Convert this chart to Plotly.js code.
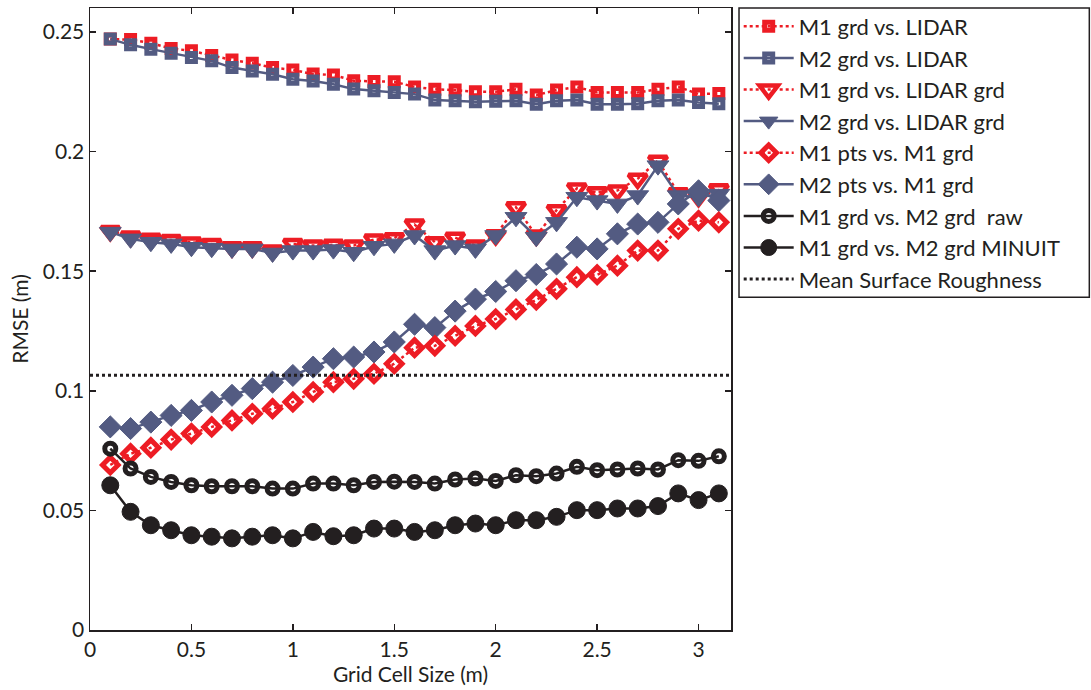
<!DOCTYPE html>
<html>
<head>
<meta charset="utf-8">
<script src="https://cdn.plot.ly/plotly-3.0.1.min.js"></script>
<style>
html,body{margin:0;padding:0;background:#fff;}
#chart{width:1091px;height:690px;}
</style>
</head>
<body>
<div id="chart"></div>
<script>
// Grid cell sizes (m)
const gridSize = [0.1,0.2,0.3,0.4,0.5,0.6,0.7,0.8,0.9,1.0,1.1,1.2,1.3,1.4,1.5,1.6,1.7,1.8,1.9,2.0,2.1,2.2,2.3,2.4,2.5,2.6,2.7,2.8,2.9,3.0,3.1];

const m1GrdVsLidar = [0.2470,0.2468,0.2453,0.2431,0.2421,0.2401,0.2383,0.2369,0.2351,0.2341,0.2324,0.2320,0.2296,0.2293,0.2292,0.2270,0.2260,0.2257,0.2250,0.2250,0.2260,0.2236,0.2257,0.2270,0.2247,0.2247,0.2247,0.2260,0.2270,0.2240,0.2243];
const m2GrdVsLidar = [0.2470,0.2446,0.2428,0.2411,0.2393,0.2379,0.2351,0.2337,0.2323,0.2302,0.2295,0.2281,0.2261,0.2254,0.2247,0.2240,0.2215,0.2212,0.2208,0.2210,0.2212,0.2198,0.2212,0.2215,0.2198,0.2198,0.2200,0.2212,0.2215,0.2205,0.2200];
const m1GrdVsLidarGrd = [0.1668,0.1645,0.1635,0.1630,0.1620,0.1613,0.1600,0.1600,0.1586,0.1614,0.1607,0.1610,0.1607,0.1632,0.1638,0.1695,0.1621,0.1640,0.1607,0.1650,0.1767,0.1649,0.1755,0.1846,0.1830,0.1837,0.1886,0.1962,0.1826,0.1810,0.1842];
const m2GrdVsLidarGrd = [0.1663,0.1635,0.1621,0.1614,0.1600,0.1596,0.1593,0.1593,0.1576,0.1586,0.1586,0.1590,0.1579,0.1604,0.1614,0.1649,0.1586,0.1607,0.1593,0.1649,0.1725,0.1642,0.1704,0.1809,0.1795,0.1781,0.1816,0.1941,0.1816,0.1809,0.1822];
const m1PtsVsM1Grd = [0.0690,0.0737,0.0762,0.0796,0.0821,0.0849,0.0876,0.0904,0.0925,0.0953,0.0995,0.1036,0.1050,0.1071,0.1113,0.1180,0.1188,0.1230,0.1271,0.1300,0.1340,0.1380,0.1426,0.1475,0.1485,0.1523,0.1586,0.1586,0.1677,0.1711,0.1704];
const m2PtsVsM1Grd = [0.0849,0.0842,0.0869,0.0897,0.0918,0.0953,0.0981,0.1009,0.1036,0.1064,0.1099,0.1134,0.1141,0.1162,0.1204,0.1278,0.1264,0.1333,0.1383,0.1415,0.1460,0.1486,0.1530,0.1600,0.1593,0.1656,0.1697,0.1704,0.1781,0.1836,0.1795];
const m1VsM2Raw = [0.0758,0.0675,0.0640,0.0619,0.0605,0.0601,0.0601,0.0601,0.0591,0.0591,0.0612,0.0612,0.0605,0.0619,0.0620,0.0619,0.0612,0.0629,0.0633,0.0623,0.0647,0.0643,0.0654,0.0682,0.0668,0.0671,0.0675,0.0671,0.0710,0.0707,0.0726];
const m1VsM2Minuit = [0.0605,0.0494,0.0438,0.0417,0.0396,0.0390,0.0383,0.0390,0.0396,0.0383,0.0410,0.0392,0.0396,0.0424,0.0424,0.0410,0.0417,0.0438,0.0445,0.0438,0.0459,0.0459,0.0473,0.0501,0.0501,0.0508,0.0508,0.0518,0.0571,0.0543,0.0571];
const roughnessX = [0, 3.16];
const roughnessY = [0.1065, 0.1065];

const seriesNames = ['M1 grd vs. LIDAR','M2 grd vs. LIDAR','M1 grd vs. LIDAR grd','M2 grd vs. LIDAR grd','M1 pts vs. M1 grd','M2 pts vs. M1 grd','M1 grd vs. M2 grd  raw','M1 grd vs. M2 grd MINUIT','Mean Surface Roughness'];
const xTicks = [0,0.5,1,1.5,2,2.5,3];
const yTicks = [0,0.05,0.1,0.15,0.2,0.25];

const RED = '#ed1c24';
const BLUE = '#535b82';
const BLACK = '#231f20';
const FONT = 'Lato, "Liberation Sans", sans-serif';

function tr(y, name, color, dash, symbol, size, lw, rank){
  return {x: gridSize, y: y, name: name, type:'scatter', mode:'lines+markers',
    line:{color:color, width:2.5, dash:dash},
    marker:{symbol:symbol, size:size, color:color, line:{color:color, width:lw}},
    legendrank: rank};
}

const data = [
  tr(m1GrdVsLidar, seriesNames[0], RED, 'dot', 'square-open', 8, 5, 1),
  tr(m2GrdVsLidar, seriesNames[1], BLUE, 'solid', 'square-open', 8, 5, 2),
  tr(m1GrdVsLidarGrd, seriesNames[2], RED, 'dot', 'triangle-down-open', 16, 4.5, 3),
  tr(m2GrdVsLidarGrd, seriesNames[3], BLUE, 'solid', 'triangle-down', 19, 1, 4),
  tr(m2PtsVsM1Grd, seriesNames[5], BLUE, 'solid', 'diamond', 17, 1, 6),
  tr(m1PtsVsM1Grd, seriesNames[4], RED, 'dot', 'diamond-open', 12, 5, 5),
  tr(m1VsM2Raw, seriesNames[6], BLACK, 'solid', 'circle-open', 11, 5, 7),
  tr(m1VsM2Minuit, seriesNames[7], BLACK, 'solid', 'circle', 17, 1, 8),
  {x: roughnessX, y: roughnessY, name: seriesNames[8], type:'scatter', mode:'lines',
   line:{color:BLACK, width:3, dash:'dot'}, legendrank: 9}
];

const axisCommon = {showgrid:false, zeroline:false, showline:true, linecolor:BLACK, linewidth:1.5,
  ticks:'inside', ticklen:6, tickwidth:1.5, tickcolor:BLACK, mirror:'ticks',
  tickfont:{family:FONT, size:21, color:BLACK}};

const layout = {
  width:1091, height:690,
  margin:{l:90, r:360, t:6, b:60},
  paper_bgcolor:'#fff', plot_bgcolor:'#fff',
  font:{family:FONT, color:BLACK},
  showlegend:true,
  legend:{x:1.012, y:1.004, xanchor:'left', yanchor:'top', borderwidth:0,
    font:{family:FONT, size:22, color:BLACK}, itemwidth:50, tracegroupgap:0, bgcolor:'rgba(0,0,0,0)'},
  shapes:[{type:'rect', xref:'paper', yref:'paper', x0:1.0125, x1:1.559, y0:0.535, y1:1.0,
    line:{color:BLACK, width:1.5}, fillcolor:'rgba(0,0,0,0)', layer:'below'}],
  xaxis: Object.assign({}, axisCommon, {range:[0,3.16], tickvals:xTicks, ticktext:xTicks.map(String),
    title:{text:'Grid Cell Size (m)', font:{family:FONT, size:21, color:BLACK}, standoff:4}}),
  yaxis: Object.assign({}, axisCommon, {range:[0,0.26], tickvals:yTicks, ticktext:yTicks.map(String),
    title:{text:'RMSE (m)', font:{family:FONT, size:21, color:BLACK}, standoff:8}})
};

Plotly.newPlot('chart', data, layout, {displayModeBar:false, staticPlot:true});
</script>
</body>
</html>
